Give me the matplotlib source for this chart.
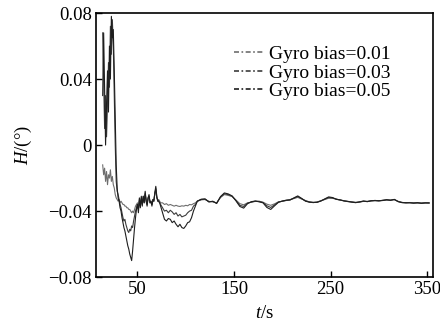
import matplotlib
matplotlib.use('Agg')
import matplotlib.pyplot as plt
from matplotlib.lines import Line2D

# tempo (s)
t = ([14, 15, 16, 17, 18, 19, 20, 21, 22, 23, 24, 25, 26, 27, 28, 29, 30, 31,
      32, 33, 34, 35, 36, 37, 38, 39, 40, 41, 42, 43, 44, 45, 46, 47, 48, 49, 50]
     + [51, 52, 53, 54, 55, 56, 57, 58, 59, 60, 61, 62, 63, 64, 65, 66, 67, 68,
        69, 70, 71, 72, 73, 74]
     + [76, 78, 80, 82, 84, 86, 88, 90, 92, 94, 96, 98, 100, 102, 104, 106, 108,
        110, 112]
     + [116, 120, 124, 128, 132, 136, 140, 144, 148, 152, 156, 160, 164, 168, 172,
        176, 180, 184, 188, 192, 196, 200, 204, 208, 212, 216, 220, 224, 228, 232,
        236, 240, 244, 248, 252, 256, 260, 264, 268, 272, 276, 280, 284, 288, 292,
        296, 300, 304, 308, 312, 316, 320, 324, 328, 332, 336, 340, 344, 348, 352])

# bias = 0.01
h_001 = ([-0.012, -0.018, -0.014, -0.022, -0.016, -0.024, -0.018, -0.020, -0.015,
          -0.022, -0.019, -0.024, -0.026, -0.030, -0.032, -0.033, -0.034,
          -0.033, -0.035, -0.034, -0.035, -0.036, -0.036, -0.037, -0.037, -0.038,
          -0.038, -0.039, -0.039, -0.040, -0.041, -0.040, -0.041, -0.039, -0.037,
          -0.036, -0.035]
         + [-0.037, -0.034, -0.036, -0.033, -0.035, -0.032, -0.034, -0.029, -0.034,
            -0.035, -0.033, -0.031, -0.034, -0.035, -0.036, -0.034, -0.033, -0.030,
            -0.026, -0.031, -0.034, -0.033, -0.034, -0.035]
         + [-0.035, -0.036, -0.0355, -0.0365, -0.036, -0.0365, -0.037, -0.0365,
            -0.037, -0.0372, -0.0368, -0.037, -0.0365, -0.0368, -0.036, -0.0362,
            -0.0355, -0.035, -0.034]
         + [-0.0332, -0.0330, -0.0341, -0.0344, -0.0350, -0.0318, -0.0300, -0.0305,
            -0.0312, -0.0333, -0.0355, -0.0362, -0.0350, -0.0347, -0.0341, -0.0340,
            -0.0346, -0.0358, -0.0365, -0.0356, -0.0344, -0.0341, -0.0336, -0.0330,
            -0.0324, -0.0317, -0.0327, -0.0336, -0.0344, -0.0349, -0.0345, -0.0337,
            -0.0330, -0.0322, -0.0323, -0.0327, -0.0334, -0.0337, -0.0343, -0.0344,
            -0.0347, -0.0346, -0.0341, -0.0341, -0.0339, -0.0335, -0.0339, -0.0334,
            -0.0333, -0.0333, -0.0331, -0.0341, -0.0347, -0.0351, -0.0348, -0.0350,
            -0.0351, -0.0351, -0.0349, -0.0352])

# bias = 0.03
h_003 = ([0.068, 0.040, 0.010, 0.030, 0.005, 0.025, 0.050, 0.035, 0.072, 0.055,
          0.076, 0.060, 0.030, 0.000, -0.022, -0.028, -0.030, -0.033,
          -0.036, -0.038, -0.041, -0.044, -0.046, -0.045, -0.048, -0.050, -0.052,
          -0.053, -0.051, -0.052, -0.049, -0.050, -0.046, -0.043, -0.040, -0.038,
          -0.036]
         + [-0.039, -0.033, -0.037, -0.032, -0.036, -0.031, -0.035, -0.030, -0.033,
            -0.036, -0.032, -0.031, -0.035, -0.034, -0.036, -0.033, -0.034, -0.029,
            -0.027, -0.032, -0.033, -0.034, -0.035, -0.036]
         + [-0.038, -0.040, -0.0395, -0.041, -0.0395, -0.0405, -0.042, -0.041,
            -0.043, -0.042, -0.0435, -0.043, -0.0425, -0.041, -0.040, -0.0395,
            -0.037, -0.036, -0.034]
         + [-0.0330, -0.0328, -0.0343, -0.0342, -0.0352, -0.0315, -0.0295, -0.0300,
            -0.0310, -0.0335, -0.0365, -0.0372, -0.0352, -0.0345, -0.0340, -0.0342,
            -0.0348, -0.0368, -0.0378, -0.0362, -0.0345, -0.0340, -0.0335, -0.0332,
            -0.0322, -0.0312, -0.0325, -0.0338, -0.0345, -0.0348, -0.0346, -0.0338,
            -0.0328, -0.0318, -0.0320, -0.0328, -0.0333, -0.0338, -0.0342, -0.0345,
            -0.0348, -0.0345, -0.0340, -0.0342, -0.0338, -0.0336, -0.0338, -0.0335,
            -0.0332, -0.0334, -0.0330, -0.0342, -0.0348, -0.0350, -0.0349, -0.0351,
            -0.0350, -0.0352, -0.0350, -0.0351])

# bias = 0.05
h_005 = ([0.030, 0.068, 0.035, 0.000, 0.025, 0.045, 0.020, 0.060, 0.040, 0.078,
          0.065, 0.070, 0.045, 0.015, -0.012, -0.026, -0.032, -0.034,
          -0.038, -0.040, -0.044, -0.047, -0.050, -0.052, -0.055, -0.058, -0.061,
          -0.063, -0.066, -0.068, -0.070, -0.064, -0.057, -0.050, -0.044, -0.039,
          -0.036]
         + [-0.041, -0.032, -0.038, -0.031, -0.037, -0.031, -0.035, -0.028, -0.034,
            -0.037, -0.032, -0.030, -0.035, -0.034, -0.037, -0.033, -0.034, -0.029,
            -0.025, -0.031, -0.034, -0.034, -0.035, -0.037]
         + [-0.041, -0.045, -0.046, -0.0445, -0.045, -0.047, -0.046, -0.048, -0.0495,
            -0.048, -0.050, -0.0505, -0.049, -0.047, -0.0465, -0.044, -0.040, -0.037,
            -0.034]
         + [-0.0328, -0.0326, -0.0345, -0.0340, -0.0354, -0.0312, -0.0290, -0.0296,
            -0.0308, -0.0338, -0.0372, -0.0382, -0.0355, -0.0343, -0.0339, -0.0344,
            -0.0350, -0.0378, -0.0390, -0.0368, -0.0347, -0.0339, -0.0334, -0.0333,
            -0.0320, -0.0308, -0.0323, -0.0340, -0.0346, -0.0347, -0.0347, -0.0339,
            -0.0326, -0.0314, -0.0318, -0.0329, -0.0332, -0.0339, -0.0341, -0.0346,
            -0.0349, -0.0344, -0.0339, -0.0343, -0.0337, -0.0337, -0.0337, -0.0336,
            -0.0331, -0.0335, -0.0329, -0.0343, -0.0349, -0.0349, -0.0350, -0.0352,
            -0.0349, -0.0353, -0.0351, -0.0350])

series = [h_001, h_003, h_005]
labels = ['Gyro bias=0.01', 'Gyro bias=0.03', 'Gyro bias=0.05']
colors = ['#6e6e6e', '#3c3c3c', '#1e1e1e']

yticks = [0.08, 0.04, 0, -0.04, -0.08]
ytick_labels = ['0.08', '0.04', '0', '\u22120.04', '\u22120.08']
xticks = [50, 150, 250, 350]

plt.rcParams['font.family'] = 'Liberation Serif'
plt.rcParams['mathtext.fontset'] = 'custom'
plt.rcParams['mathtext.it'] = 'Liberation Serif:italic'
plt.rcParams['mathtext.rm'] = 'Liberation Serif'

fig = plt.figure(figsize=(4.4, 3.26), dpi=100)
ax = fig.add_axes([0.218, 0.150, 0.766, 0.810])

for y, c in zip(series, colors):
    ax.plot(t, y, color=c, linewidth=0.8)

ax.set_xlim(7, 356)
ax.set_ylim(-0.08, 0.08)
ax.set_xticks(xticks)
ax.set_xticklabels([str(v) for v in xticks])
ax.set_yticks(yticks)
ax.set_yticklabels(ytick_labels)
ax.tick_params(direction='in', length=4, width=1, labelsize=13.5, pad=3)
for s in ax.spines.values():
    s.set_linewidth(1.2)

ax.set_xlabel('$t$/s', fontsize=13.5, labelpad=5)
ax.set_ylabel('$H$/(°)', fontsize=13.5, labelpad=10)

# legenda com traço-ponto curto
handles = [Line2D([], [], color=c, linewidth=1.2, linestyle=(0, (3, 1.5, 1, 1.5)))
           for c in colors]
ax.legend(handles, labels, loc='upper left', bbox_to_anchor=(0.41, 0.877),
          frameon=False, fontsize=14, handlelength=1.5, handletextpad=0.3,
          labelspacing=0.05, borderaxespad=0, borderpad=0)

fig.savefig('out.png', dpi=100)
